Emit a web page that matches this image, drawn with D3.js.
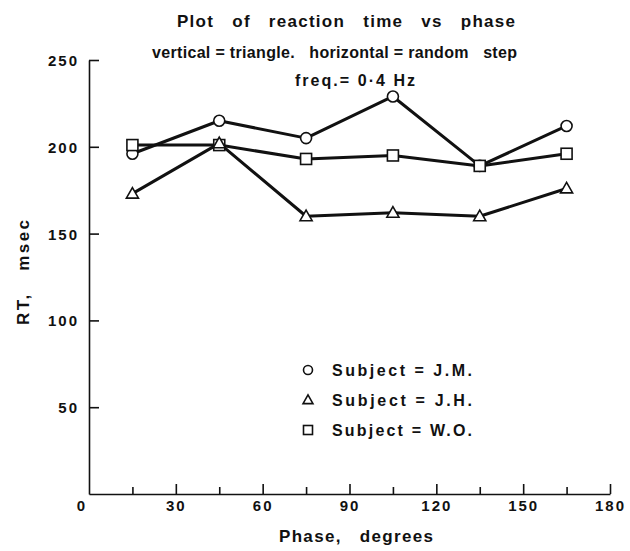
<!DOCTYPE html>
<html>
<head>
<meta charset="utf-8">
<script src="https://cdn.jsdelivr.net/npm/d3@7"></script>
<style>
  body { margin: 0; background: #fff; }
  text { font-family: "Liberation Sans", Arial, sans-serif; font-weight: bold; fill: #111; white-space: pre; }
</style>
</head>
<body>
<div class="graph"></div>
<script>
// Data
let phases = [15, 45, 75, 105, 135, 165];
let subjJM = [196, 215, 205, 229, 189, 212];
let subjJH = [173, 202, 160, 162, 160, 176];
let subjWO = [201, 201, 193, 195, 189, 196];
let xTicks = [0, 30, 60, 90, 120, 150, 180];
let xMinor = [15, 45, 75, 105, 135, 165];
let yTicks = [50, 100, 150, 200, 250];

let width = 630;
let height = 551;
let ink = "#111";

let svg = d3
  .select(".graph")
  .append("svg")
  .attr("width", width)
  .attr("height", height);

let x = d3.scaleLinear().domain([0, 180]).range([89, 610]);
let y = d3.scaleLinear().domain([0, 250]).range([494, 60]);

// Axes
let xAxis = svg
  .append("g")
  .attr("transform", `translate(0,${y(0)})`)
  .call(
    d3.axisBottom(x).tickValues(xTicks.slice(1)).tickSizeInner(-10).tickSizeOuter(0).tickPadding(6)
  );
let xMinorAxis = svg
  .append("g")
  .attr("transform", `translate(0,${y(0)})`)
  .call(d3.axisBottom(x).tickValues(xMinor).tickSizeInner(-7).tickSizeOuter(0).tickFormat(""));
xMinorAxis.select(".domain").remove();

let yAxis = svg
  .append("g")
  .attr("transform", `translate(${x(0)},0)`)
  .call(d3.axisLeft(y).tickValues(yTicks).tickSizeInner(-10).tickSizeOuter(0).tickPadding(10));

svg.selectAll(".domain, .tick line").attr("stroke", ink).attr("stroke-width", 1.6);
svg.selectAll(".tick text").style("font-size", "15px").attr("letter-spacing", "2px").attr("fill", ink);
yAxis.selectAll(".tick text").attr("dy", "0.36em");

// lone zero below the corner
svg
  .append("text")
  .attr("x", x(0) - 8)
  .attr("y", y(0) + 17)
  .attr("text-anchor", "middle")
  .style("font-size", "15px")
  .text("0");

// Series lines
let line = d3
  .line()
  .x((d, i) => x(phases[i]))
  .y((d) => y(d));

let series = [
  { name: "J.M.", values: subjJM, shape: "circle" },
  { name: "W.O.", values: subjWO, shape: "square" },
  { name: "J.H.", values: subjJH, shape: "triangle" },
];

svg
  .append("g")
  .selectAll("path")
  .data(series)
  .enter()
  .append("path")
  .attr("d", (d) => line(d.values))
  .attr("fill", "none")
  .attr("stroke", ink)
  .attr("stroke-width", 3)
  .attr("stroke-linejoin", "round");

// Markers
function drawMarker(g, shape, cx, cy, s) {
  if (shape === "circle") {
    g.append("circle").attr("cx", cx).attr("cy", cy).attr("r", s * 0.5);
  } else if (shape === "square") {
    g.append("rect")
      .attr("x", cx - s / 2)
      .attr("y", cy - s / 2)
      .attr("width", s)
      .attr("height", s);
  } else {
    let h = s * 0.9;
    g.append("path").attr(
      "d",
      `M${cx},${cy - h * 0.62}L${cx + s * 0.55},${cy + h * 0.45}L${cx - s * 0.55},${cy + h * 0.45}Z`
    );
  }
}

let marks = svg.append("g").attr("fill", "#fff").attr("stroke", ink).attr("stroke-width", 1.6);
series.forEach((s) => {
  s.values.forEach((v, i) => drawMarker(marks, s.shape, x(phases[i]), y(v), 11));
});

// Legend
let legendRows = [
  { label: "Subject = J.M.", shape: "circle" },
  { label: "Subject = J.H.", shape: "triangle" },
  { label: "Subject = W.O.", shape: "square" },
];
let legend = svg.append("g");
legendRows.forEach((r, i) => {
  let ly = 370 + i * 30;
  let lg = legend.append("g").attr("fill", "#fff").attr("stroke", ink).attr("stroke-width", 1.6);
  drawMarker(lg, r.shape, 308, ly, 9);
  legend
    .append("text")
    .attr("x", 332)
    .attr("y", ly + 6)
    .attr("textLength", 140)
    .attr("lengthAdjust", "spacing")
    .style("font-size", "16px")
    .text(r.label);
});

// Titles
function addText(str, x0, y0, len, size) {
  return svg
    .append("text")
    .attr("x", x0)
    .attr("y", y0)
    .attr("textLength", len)
    .attr("lengthAdjust", "spacing")
    .style("font-size", size + "px")
    .text(str);
}
addText("Plot   of   reaction   time   vs   phase", 177, 27, 338, 17);
addText("vertical = triangle.   horizontal = random   step", 152, 58, 365, 16);
addText("freq.= 0·4 Hz", 295, 86, 120, 16);
addText("Phase,   degrees", 279, 542, 154, 17);

svg
  .append("text")
  .attr("transform", "translate(29,325) rotate(-90)")
  .attr("textLength", 105)
  .attr("lengthAdjust", "spacing")
  .style("font-size", "17px")
  .text("RT,   msec");
</script>
</body>
</html>
